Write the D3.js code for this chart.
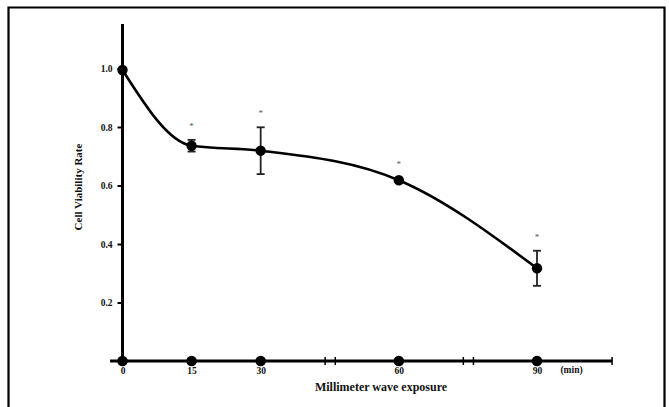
<!DOCTYPE html>
<html><head><meta charset="utf-8">
<script src="https://cdn.jsdelivr.net/npm/d3@7"></script>
<style>html,body{margin:0;padding:0;background:#fff;}svg{display:block;}</style>
</head><body>
<svg id="c" width="670" height="407"></svg>
<script>
const times = [0, 15, 30, 60, 90];
const viability = [0.995, 0.736, 0.719, 0.618, 0.317];
const errors = [0, 0.02, 0.08, 0.006, 0.06];
const significant = [false, true, true, true, true];
const yTicks = [0.2, 0.4, 0.6, 0.8, 1.0];
const xTicks = [0, 15, 30, 60, 90];
const breakTicks = [44, 46.2, 74, 76.2];

const svg = d3.select("#c");
const x = d3.scaleLinear().domain([0, 90]).range([122.5, 537]);
const y = d3.scaleLinear().domain([0, 1]).range([361, 68.5]);
const font = "'Liberation Serif', 'Times New Roman', serif";

// frame
svg.append("path").attr("d", "M8.5,420 L8.5,7.5 L664.5,7.5 L664.5,420")
  .attr("fill", "none").attr("stroke", "#000").attr("stroke-width", 2.2);

// y axis
const yAxis = svg.append("g").attr("transform", `translate(${x(0)},0)`)
  .call(d3.axisLeft(y).tickValues(yTicks).tickFormat(d3.format(".1f")).tickSize(5).tickPadding(5));
yAxis.select(".domain").remove();
yAxis.selectAll(".tick line").attr("stroke", "#000").attr("stroke-width", 2);
yAxis.selectAll(".tick text").attr("font-family", font).attr("font-weight", "bold")
  .attr("font-size", 9.5).attr("fill", "#111");
svg.append("line").attr("x1", x(0)).attr("x2", x(0)).attr("y1", 24).attr("y2", y(0))
  .attr("stroke", "#000").attr("stroke-width", 3);

// x axis
const xAxis = svg.append("g").attr("transform", `translate(0,${y(0)})`)
  .call(d3.axisBottom(x).tickValues(xTicks).tickSize(0).tickPadding(6));
xAxis.select(".domain").remove();
xAxis.selectAll(".tick text").attr("font-family", font).attr("font-weight", "bold")
  .attr("font-size", 9.5).attr("fill", "#111");
svg.append("line").attr("x1", x(-2.7)).attr("x2", x(106.3)).attr("y1", y(0)).attr("y2", y(0))
  .attr("stroke", "#000").attr("stroke-width", 3);
svg.append("line").attr("x1", x(106.3)).attr("x2", x(106.3)).attr("y1", y(0) - 4).attr("y2", y(0) + 4)
  .attr("stroke", "#000").attr("stroke-width", 1.5);
svg.selectAll(".brk").data(breakTicks).join("line").attr("class", "brk")
  .attr("x1", d => x(d)).attr("x2", d => x(d)).attr("y1", y(0) - 4).attr("y2", y(0) + 4)
  .attr("stroke", "#000").attr("stroke-width", 1.5);
svg.selectAll(".xdot").data(xTicks).join("circle").attr("class", "xdot")
  .attr("cx", d => x(d)).attr("cy", y(0)).attr("r", 5.3).attr("fill", "#000");

svg.append("text").attr("x", x(97.5)).attr("y", 373).attr("text-anchor", "middle")
  .attr("font-family", font).attr("font-weight", "bold").attr("font-size", 9.5).attr("fill", "#111").text("(min)");
svg.append("text").attr("x", 381).attr("y", 391).attr("text-anchor", "middle")
  .attr("font-family", font).attr("font-weight", "bold").attr("font-size", 12).attr("fill", "#111")
  .text("Millimeter wave exposure");
svg.append("text").attr("transform", "translate(82,187) rotate(-90)").attr("text-anchor", "middle")
  .attr("font-family", font).attr("font-weight", "bold").attr("font-size", 11).attr("fill", "#111")
  .text("Cell Viability Rate");

const data = times.map((t, i) => ({t, v: viability[i], e: errors[i], s: significant[i]}));

// curve
svg.append("path").datum(data)
  .attr("d", d3.line().x(d => x(d.t)).y(d => y(d.v)).curve(d3.curveMonotoneX))
  .attr("fill", "none").attr("stroke", "#000").attr("stroke-width", 2.6);

// error bars
const eb = svg.selectAll(".eb").data(data.filter(d => d.e > 0.01)).join("g").attr("class", "eb")
  .attr("stroke", "#222").attr("stroke-width", 1.8);
eb.append("line").attr("x1", d => x(d.t)).attr("x2", d => x(d.t))
  .attr("y1", d => y(d.v + d.e)).attr("y2", d => y(d.v - d.e));
eb.append("line").attr("x1", d => x(d.t) - 4).attr("x2", d => x(d.t) + 4)
  .attr("y1", d => y(d.v + d.e)).attr("y2", d => y(d.v + d.e));
eb.append("line").attr("x1", d => x(d.t) - 4).attr("x2", d => x(d.t) + 4)
  .attr("y1", d => y(d.v - d.e)).attr("y2", d => y(d.v - d.e));

// points
svg.selectAll(".pt").data(data).join("circle").attr("class", "pt")
  .attr("cx", d => x(d.t)).attr("cy", d => y(d.v)).attr("r", 5.2).attr("fill", "#000");

// asterisks
svg.selectAll(".ast").data(data.filter(d => d.s)).join("text").attr("class", "ast")
  .attr("x", d => x(d.t)).attr("y", d => y(d.v + d.e) - 11).attr("text-anchor", "middle")
  .attr("font-family", font).attr("font-size", 9).attr("fill", "#555").text("*");
</script>
</body></html>
